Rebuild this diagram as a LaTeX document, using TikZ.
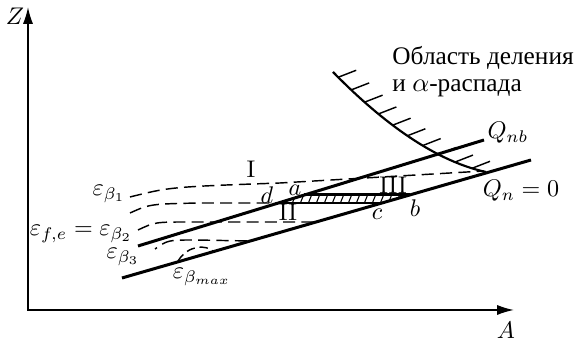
\documentclass[tikz,border=0pt]{standalone}
\usepackage{fontspec}
\newfontfamily\cyr{Liberation Serif}
\usetikzlibrary{arrows.meta,decorations.markings}
\begin{document}
\begin{tikzpicture}[x=0.415pt,y=-0.415pt,
  axis/.style={line width=0.7pt},
  thickline/.style={line width=1.25pt},
  curveline/.style={line width=0.9pt},
  dashline/.style={line width=0.6pt,dash pattern=on 5pt off 2.6pt},
  lbl/.style={inner sep=0pt},
  hatchline/.style={line width=0.45pt},
  ticks/.style={postaction={decorate},decoration={markings,
    mark=between positions 0.04 and 0.93 step 0.098 with {\pgftransformresetnontranslations\draw[line width=0.6pt] (0,0) -- (18,-7);}}}]
\useasboundingbox (0,0) rectangle (577,344);

% axes
\coordinate (O) at (28,310);
\coordinate (Ztip) at (28,7);
\coordinate (Atip) at (514,310);
\draw[axis,{Latex[length=7pt,width=4.2pt]}-{Latex[length=7pt,width=4.2pt]}] (Ztip) -- (O) -- (Atip);
\node[lbl] (Z) at (15,16) {$Z$};
\node[lbl] (A) at (506,330) {$A$};

% main lines
\coordinate (L1) at (122,278);
\coordinate (L2) at (531,160);
\coordinate (U1) at (138,246);
\coordinate (U2) at (484,140);
\draw[thickline] (L1) -- (L2);
\draw[thickline] (U1) -- (U2);
\node[lbl] (Qnb) at (508,133) {$Q_{nb}$};
\node[lbl] (Qn) at (521,191) {$Q_n=0$};

% fission boundary
\coordinate (F1) at (333,72);
\coordinate (F2) at (486,172);
\draw[curveline,ticks] (F1) .. controls (375,115) and (430,160) .. (F2);
\node[lbl,anchor=north west,align=left,font={\cyr\fontsize{10.5pt}{11pt}\selectfont}] (reg) at (392,46) {Область деления\\и $\alpha$-распада};

% hatched region
\coordinate (a) at (304.5,195);
\coordinate (b) at (409.7,195);
\coordinate (c) at (382,203);
\coordinate (d) at (278.3,203);
\begin{scope}
  \clip (d) -- (a) -- (b) -- (c) -- cycle;
  \foreach \x in {276,284,...,412} \draw[hatchline] (\x,204) -- (\x+4,194);
\end{scope}
\draw[thickline] (a) -- (b);
\draw[line width=0.7pt] (d) -- (c);

% dashed level lines
\coordinate (B1s) at (130,197);
\coordinate (B1e) at (484,171);
\draw[dashline] (B1s) .. controls (170,187) .. (280,183) -- (B1e);
\coordinate (B0s) at (130,213);
\draw[dashline] (B0s) .. controls (150,204) .. (200,203) -- (d);
\coordinate (B2s) at (138,230);
\coordinate (B2e) at (316,222);
\draw[dashline] (B2s) .. controls (155,222) .. (190,222) -- (B2e);
\coordinate (B3s) at (155,249);
\coordinate (B3e) at (250,241);
\draw[dashline,dash phase=4pt] (B3s) .. controls (168,240) .. (195,240) -- (B3e);
\coordinate (Bms) at (178,261);
\coordinate (Bme) at (214,252);
\draw[line width=0.6pt,dash pattern=on 3.5pt off 2pt] (Bms) .. controls (188,245) and (206,244) .. (Bme);

% labels
\node[lbl] (e1) at (109,194) {$\varepsilon_{\beta_1}$};
\node[lbl] (e2) at (81,234) {$\varepsilon_{f,e}=\varepsilon_{\beta_2}$};
\node[lbl] (e3) at (123,257) {$\varepsilon_{\beta_3}$};
\node[lbl] (em) at (202,277) {$\varepsilon_{\beta_{max}}$};
\node[lbl] (la) at (295,190) {$a$};
\node[lbl] (ld) at (267,195) {$d$};
\node[lbl] (lb) at (415,208) {$b$};
\node[lbl] (lc) at (377,214) {$c$};
\node[lbl] (r1) at (251,169) {I};
\node[lbl] (r2) at (288,212) {II};
\node[lbl] (r3) at (393,185) {III};
\end{tikzpicture}
\end{document}
